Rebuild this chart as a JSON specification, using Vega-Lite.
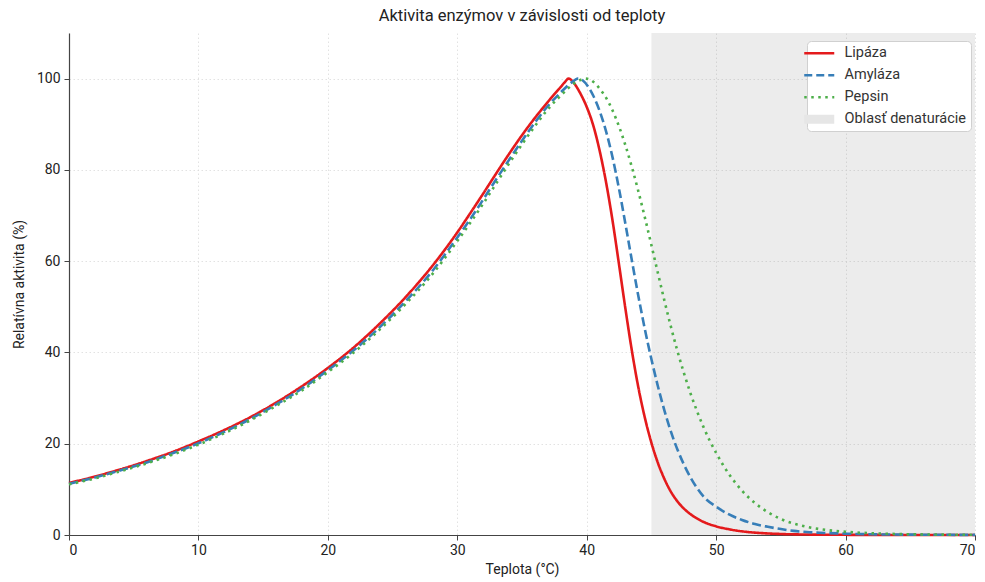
{
  "$schema": "https://vega.github.io/schema/vega-lite/v6.json",
  "width": 906,
  "height": 502,
  "autosize": "none",
  "padding": {"left": 69, "top": 33, "right": 10, "bottom": 47},
  "title": {"text": "Aktivita enzýmov v závislosti od teploty", "fontSize": 16.5, "fontWeight": "normal", "font": "Roboto", "color": "#222", "offset": 9, "anchor": "middle"},
  "config": {
    "view": {"stroke": null},
    "font": "Roboto",
    "axis": {"domainColor": "#444", "domainWidth": 1.2, "tickColor": "#444", "tickSize": 5, "labelFontSize": 14, "labelColor": "#222", "titleFontSize": 14, "titleFontWeight": "normal", "titleColor": "#222", "gridColor": "#dadada", "gridDash": [1.5, 2.5], "gridWidth": 0.8, "labelFont": "Roboto", "titleFont": "Roboto"}
  },
  "layer": [
    {
      "data": {"values": [{"start": 45, "end": 70}]},
      "mark": {"type": "rect", "fill": "#808080", "opacity": 0.15},
      "encoding": {
        "x": {"field": "start", "type": "quantitative", "scale": {"domain": [0, 70], "nice": false}, "axis": {"values": [0, 10, 20, 30, 40, 50, 60, 70], "title": "Teplota (°C)", "labelPadding": 3, "titlePadding": 5}},
        "x2": {"field": "end"}
      }
    },
    {
      "data": {"values": [
        {"enzyme": "Lipáza", "t": 0, "v": 11.4}, {"enzyme": "Lipáza", "t": 2, "v": 12.8}, {"enzyme": "Lipáza", "t": 4, "v": 14.4}, {"enzyme": "Lipáza", "t": 6, "v": 16.2}, {"enzyme": "Lipáza", "t": 8, "v": 18.2}, {"enzyme": "Lipáza", "t": 10, "v": 20.5}, {"enzyme": "Lipáza", "t": 12, "v": 23.0}, {"enzyme": "Lipáza", "t": 14, "v": 25.8}, {"enzyme": "Lipáza", "t": 16, "v": 29.0}, {"enzyme": "Lipáza", "t": 18, "v": 32.6}, {"enzyme": "Lipáza", "t": 20, "v": 36.6}, {"enzyme": "Lipáza", "t": 22, "v": 41.1}, {"enzyme": "Lipáza", "t": 24, "v": 46.3}, {"enzyme": "Lipáza", "t": 26, "v": 52.1}, {"enzyme": "Lipáza", "t": 28, "v": 58.7}, {"enzyme": "Lipáza", "t": 30, "v": 66.3}, {"enzyme": "Lipáza", "t": 31, "v": 70.5}, {"enzyme": "Lipáza", "t": 32, "v": 74.8}, {"enzyme": "Lipáza", "t": 33, "v": 79.2}, {"enzyme": "Lipáza", "t": 34, "v": 83.5}, {"enzyme": "Lipáza", "t": 35, "v": 87.6}, {"enzyme": "Lipáza", "t": 36, "v": 91.4}, {"enzyme": "Lipáza", "t": 37, "v": 94.9}, {"enzyme": "Lipáza", "t": 37.5, "v": 96.6}, {"enzyme": "Lipáza", "t": 38, "v": 98.2}, {"enzyme": "Lipáza", "t": 38.3, "v": 99.2}, {"enzyme": "Lipáza", "t": 38.6, "v": 100}, {"enzyme": "Lipáza", "t": 38.85, "v": 99.6}, {"enzyme": "Lipáza", "t": 39.1, "v": 98.7}, {"enzyme": "Lipáza", "t": 39.5, "v": 96.8}, {"enzyme": "Lipáza", "t": 40, "v": 93.8}, {"enzyme": "Lipáza", "t": 40.5, "v": 89.8}, {"enzyme": "Lipáza", "t": 41, "v": 84.2}, {"enzyme": "Lipáza", "t": 41.5, "v": 77.2}, {"enzyme": "Lipáza", "t": 42, "v": 68.8}, {"enzyme": "Lipáza", "t": 42.5, "v": 59.2}, {"enzyme": "Lipáza", "t": 43, "v": 49.4}, {"enzyme": "Lipáza", "t": 43.5, "v": 40.2}, {"enzyme": "Lipáza", "t": 44, "v": 32.2}, {"enzyme": "Lipáza", "t": 44.5, "v": 25.6}, {"enzyme": "Lipáza", "t": 45, "v": 20.2}, {"enzyme": "Lipáza", "t": 45.5, "v": 15.8}, {"enzyme": "Lipáza", "t": 46, "v": 12.3}, {"enzyme": "Lipáza", "t": 46.5, "v": 9.5}, {"enzyme": "Lipáza", "t": 47, "v": 7.4}, {"enzyme": "Lipáza", "t": 47.5, "v": 5.8}, {"enzyme": "Lipáza", "t": 48, "v": 4.6}, {"enzyme": "Lipáza", "t": 49, "v": 2.9}, {"enzyme": "Lipáza", "t": 50, "v": 1.9}, {"enzyme": "Lipáza", "t": 51, "v": 1.25}, {"enzyme": "Lipáza", "t": 52, "v": 0.8}, {"enzyme": "Lipáza", "t": 53, "v": 0.52}, {"enzyme": "Lipáza", "t": 54, "v": 0.34}, {"enzyme": "Lipáza", "t": 55, "v": 0.22}, {"enzyme": "Lipáza", "t": 57, "v": 0.1}, {"enzyme": "Lipáza", "t": 60, "v": 0.04}, {"enzyme": "Lipáza", "t": 65, "v": 0.01}, {"enzyme": "Lipáza", "t": 70, "v": 0},
        {"enzyme": "Amyláza", "t": 0, "v": 11.2}, {"enzyme": "Amyláza", "t": 2, "v": 12.6}, {"enzyme": "Amyláza", "t": 4, "v": 14.2}, {"enzyme": "Amyláza", "t": 6, "v": 15.9}, {"enzyme": "Amyláza", "t": 8, "v": 17.9}, {"enzyme": "Amyláza", "t": 10, "v": 20.1}, {"enzyme": "Amyláza", "t": 12, "v": 22.6}, {"enzyme": "Amyláza", "t": 14, "v": 25.4}, {"enzyme": "Amyláza", "t": 16, "v": 28.6}, {"enzyme": "Amyláza", "t": 18, "v": 32.1}, {"enzyme": "Amyláza", "t": 20, "v": 36.1}, {"enzyme": "Amyláza", "t": 22, "v": 40.5}, {"enzyme": "Amyláza", "t": 24, "v": 45.5}, {"enzyme": "Amyláza", "t": 26, "v": 51.2}, {"enzyme": "Amyláza", "t": 28, "v": 57.6}, {"enzyme": "Amyláza", "t": 30, "v": 65.2}, {"enzyme": "Amyláza", "t": 31, "v": 69.2}, {"enzyme": "Amyláza", "t": 32, "v": 73.5}, {"enzyme": "Amyláza", "t": 33, "v": 77.9}, {"enzyme": "Amyláza", "t": 34, "v": 82.2}, {"enzyme": "Amyláza", "t": 35, "v": 86.4}, {"enzyme": "Amyláza", "t": 36, "v": 90.4}, {"enzyme": "Amyláza", "t": 37, "v": 94.0}, {"enzyme": "Amyláza", "t": 38, "v": 97.0}, {"enzyme": "Amyláza", "t": 38.5, "v": 98.4}, {"enzyme": "Amyláza", "t": 39, "v": 99.5}, {"enzyme": "Amyláza", "t": 39.3, "v": 100}, {"enzyme": "Amyláza", "t": 39.7, "v": 99.6}, {"enzyme": "Amyláza", "t": 40.1, "v": 98.3}, {"enzyme": "Amyláza", "t": 40.5, "v": 96.3}, {"enzyme": "Amyláza", "t": 41, "v": 92.9}, {"enzyme": "Amyláza", "t": 41.5, "v": 88.4}, {"enzyme": "Amyláza", "t": 42, "v": 82.7}, {"enzyme": "Amyláza", "t": 42.5, "v": 75.8}, {"enzyme": "Amyláza", "t": 43, "v": 68.0}, {"enzyme": "Amyláza", "t": 43.5, "v": 60.0}, {"enzyme": "Amyláza", "t": 44, "v": 52.2}, {"enzyme": "Amyláza", "t": 44.5, "v": 45.0}, {"enzyme": "Amyláza", "t": 45, "v": 38.5}, {"enzyme": "Amyláza", "t": 45.5, "v": 32.6}, {"enzyme": "Amyláza", "t": 46, "v": 27.3}, {"enzyme": "Amyláza", "t": 46.5, "v": 22.7}, {"enzyme": "Amyláza", "t": 47, "v": 18.8}, {"enzyme": "Amyláza", "t": 47.5, "v": 15.5}, {"enzyme": "Amyláza", "t": 48, "v": 12.7}, {"enzyme": "Amyláza", "t": 48.5, "v": 10.4}, {"enzyme": "Amyláza", "t": 49, "v": 8.5}, {"enzyme": "Amyláza", "t": 50, "v": 6.2}, {"enzyme": "Amyláza", "t": 51, "v": 4.5}, {"enzyme": "Amyláza", "t": 52, "v": 3.3}, {"enzyme": "Amyláza", "t": 53, "v": 2.4}, {"enzyme": "Amyláza", "t": 54, "v": 1.8}, {"enzyme": "Amyláza", "t": 55, "v": 1.3}, {"enzyme": "Amyláza", "t": 56, "v": 0.9}, {"enzyme": "Amyláza", "t": 57, "v": 0.65}, {"enzyme": "Amyláza", "t": 58, "v": 0.5}, {"enzyme": "Amyláza", "t": 60, "v": 0.3}, {"enzyme": "Amyláza", "t": 62, "v": 0.15}, {"enzyme": "Amyláza", "t": 65, "v": 0.08}, {"enzyme": "Amyláza", "t": 70, "v": 0.02},
        {"enzyme": "Pepsin", "t": 0, "v": 11.1}, {"enzyme": "Pepsin", "t": 2, "v": 12.4}, {"enzyme": "Pepsin", "t": 4, "v": 14.0}, {"enzyme": "Pepsin", "t": 6, "v": 15.7}, {"enzyme": "Pepsin", "t": 8, "v": 17.6}, {"enzyme": "Pepsin", "t": 10, "v": 19.8}, {"enzyme": "Pepsin", "t": 12, "v": 22.3}, {"enzyme": "Pepsin", "t": 14, "v": 25.1}, {"enzyme": "Pepsin", "t": 16, "v": 28.3}, {"enzyme": "Pepsin", "t": 18, "v": 31.7}, {"enzyme": "Pepsin", "t": 20, "v": 35.7}, {"enzyme": "Pepsin", "t": 22, "v": 40.0}, {"enzyme": "Pepsin", "t": 24, "v": 45.0}, {"enzyme": "Pepsin", "t": 26, "v": 50.6}, {"enzyme": "Pepsin", "t": 28, "v": 56.9}, {"enzyme": "Pepsin", "t": 30, "v": 64.4}, {"enzyme": "Pepsin", "t": 31, "v": 68.4}, {"enzyme": "Pepsin", "t": 32, "v": 72.6}, {"enzyme": "Pepsin", "t": 33, "v": 77.0}, {"enzyme": "Pepsin", "t": 34, "v": 81.4}, {"enzyme": "Pepsin", "t": 35, "v": 85.6}, {"enzyme": "Pepsin", "t": 36, "v": 89.6}, {"enzyme": "Pepsin", "t": 37, "v": 93.3}, {"enzyme": "Pepsin", "t": 38, "v": 96.3}, {"enzyme": "Pepsin", "t": 38.5, "v": 97.7}, {"enzyme": "Pepsin", "t": 39, "v": 98.9}, {"enzyme": "Pepsin", "t": 39.5, "v": 99.7}, {"enzyme": "Pepsin", "t": 39.9, "v": 100}, {"enzyme": "Pepsin", "t": 40.3, "v": 99.7}, {"enzyme": "Pepsin", "t": 40.7, "v": 98.8}, {"enzyme": "Pepsin", "t": 41, "v": 97.8}, {"enzyme": "Pepsin", "t": 41.5, "v": 95.8}, {"enzyme": "Pepsin", "t": 42, "v": 93.0}, {"enzyme": "Pepsin", "t": 42.5, "v": 89.5}, {"enzyme": "Pepsin", "t": 43, "v": 85.3}, {"enzyme": "Pepsin", "t": 43.5, "v": 80.5}, {"enzyme": "Pepsin", "t": 44, "v": 75.2}, {"enzyme": "Pepsin", "t": 44.5, "v": 69.5}, {"enzyme": "Pepsin", "t": 45, "v": 63.5}, {"enzyme": "Pepsin", "t": 45.5, "v": 57.4}, {"enzyme": "Pepsin", "t": 46, "v": 51.4}, {"enzyme": "Pepsin", "t": 46.5, "v": 45.7}, {"enzyme": "Pepsin", "t": 47, "v": 40.4}, {"enzyme": "Pepsin", "t": 47.5, "v": 35.6}, {"enzyme": "Pepsin", "t": 48, "v": 31.2}, {"enzyme": "Pepsin", "t": 48.5, "v": 27.3}, {"enzyme": "Pepsin", "t": 49, "v": 23.8}, {"enzyme": "Pepsin", "t": 49.5, "v": 20.7}, {"enzyme": "Pepsin", "t": 50, "v": 18.0}, {"enzyme": "Pepsin", "t": 50.5, "v": 15.5}, {"enzyme": "Pepsin", "t": 51, "v": 13.3}, {"enzyme": "Pepsin", "t": 51.5, "v": 11.4}, {"enzyme": "Pepsin", "t": 52, "v": 9.7}, {"enzyme": "Pepsin", "t": 53, "v": 7.0}, {"enzyme": "Pepsin", "t": 54, "v": 5.0}, {"enzyme": "Pepsin", "t": 55, "v": 3.5}, {"enzyme": "Pepsin", "t": 56, "v": 2.5}, {"enzyme": "Pepsin", "t": 57, "v": 1.8}, {"enzyme": "Pepsin", "t": 58, "v": 1.3}, {"enzyme": "Pepsin", "t": 59, "v": 0.95}, {"enzyme": "Pepsin", "t": 60, "v": 0.7}, {"enzyme": "Pepsin", "t": 62, "v": 0.4}, {"enzyme": "Pepsin", "t": 64, "v": 0.22}, {"enzyme": "Pepsin", "t": 66, "v": 0.12}, {"enzyme": "Pepsin", "t": 68, "v": 0.07}, {"enzyme": "Pepsin", "t": 70, "v": 0.04}
      ]},
      "mark": {"type": "line", "strokeWidth": 2.6, "interpolate": "monotone"},
      "encoding": {
        "x": {"field": "t", "type": "quantitative"},
        "y": {"field": "v", "type": "quantitative", "scale": {"domain": [0, 110], "nice": false}, "axis": {"values": [0, 20, 40, 60, 80, 100], "title": "Relatívna aktivita (%)", "labelPadding": 4, "titlePadding": 10}},
        "color": {
          "field": "enzyme", "type": "nominal",
          "scale": {"domain": ["Lipáza", "Amyláza", "Pepsin", "Oblasť denaturácie"], "range": ["#e41a1c", "#377eb8", "#4daf4a", "#e6e6e6"]},
          "legend": {
            "orient": "none", "legendX": 738, "legendY": 8, "title": null,
            "symbolType": "stroke", "symbolSize": 900, "symbolStrokeWidth": 2.6,
            "labelFontSize": 14.5, "labelColor": "#333", "labelOffset": 18, "labelFont": "Roboto",
            "fillColor": "white", "strokeColor": "#d0d0d0", "cornerRadius": 4, "padding": 5, "rowPadding": 7,
            "encode": {"symbols": {"update": {
              "shape": {"signal": "datum.value === 'Oblasť denaturácie' ? 'M-1,-0.3H1V0.3H-1Z' : 'stroke'"},
              "fill": {"signal": "datum.value === 'Oblasť denaturácie' ? '#e6e6e6' : 'transparent'"},
              "strokeDash": {"signal": "datum.value === 'Amyláza' ? [8, 4] : datum.value === 'Pepsin' ? [2.5, 4.5] : [1, 0]"},
              "strokeWidth": {"signal": "datum.value === 'Oblasť denaturácie' ? 0 : 2.6"}
            }}}
          }
        },
        "strokeDash": {"field": "enzyme", "type": "nominal", "scale": {"domain": ["Lipáza", "Amyláza", "Pepsin"], "range": [[1, 0], [9, 4], [2.5, 4.5]]}, "legend": null}
      }
    }
  ]
}
